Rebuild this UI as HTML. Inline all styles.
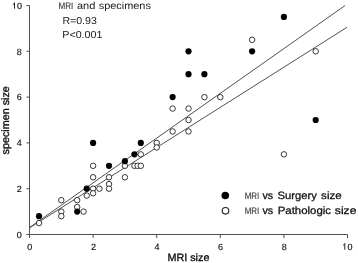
<!DOCTYPE html>
<html><head><meta charset="utf-8"><style>
html,body{margin:0;padding:0;background:#fff;width:358px;height:263px;overflow:hidden}
svg{display:block;filter:blur(0.35px)}
text{font-family:"Liberation Sans",sans-serif;fill:#111;text-rendering:geometricPrecision}
.tl{font-size:9.0px;fill:#111;stroke:#111;stroke-width:0.15px}
.at{font-size:10.6px;stroke:#111;stroke-width:0.35px}
.an{font-size:10.1px;fill:#1a1a1a}
.lg{font-size:10.6px;stroke:#111;stroke-width:0.28px}
.mri{font-size:9.4px;fill:#333;stroke:#333;stroke-width:0.1px}
</style></head><body>
<svg width="358" height="263" viewBox="0 0 358 263">
<line x1="29.6" y1="227.5" x2="345" y2="5.6" stroke="#505050" stroke-width="1"/>
<line x1="29.6" y1="227.8" x2="347" y2="27.3" stroke="#505050" stroke-width="1"/>
<path d="M29.5 5.5 V234.5 H347.5" fill="none" stroke="#505050" stroke-width="1"/>
<line x1="26.4" y1="234.50" x2="29.5" y2="234.50" stroke="#505050" stroke-width="1"/>
<text x="21.8" y="237.70" text-anchor="end" class="tl">0</text>
<line x1="26.4" y1="188.70" x2="29.5" y2="188.70" stroke="#505050" stroke-width="1"/>
<text x="21.8" y="191.90" text-anchor="end" class="tl">2</text>
<line x1="26.4" y1="142.90" x2="29.5" y2="142.90" stroke="#505050" stroke-width="1"/>
<text x="21.8" y="146.10" text-anchor="end" class="tl">4</text>
<line x1="26.4" y1="97.10" x2="29.5" y2="97.10" stroke="#505050" stroke-width="1"/>
<text x="21.8" y="100.30" text-anchor="end" class="tl">6</text>
<line x1="26.4" y1="51.30" x2="29.5" y2="51.30" stroke="#505050" stroke-width="1"/>
<text x="21.8" y="54.50" text-anchor="end" class="tl">8</text>
<line x1="26.4" y1="5.50" x2="29.5" y2="5.50" stroke="#505050" stroke-width="1"/>
<path d="M14.50 2.70 V8.70 M14.80 3.00 L12.80 4.60" stroke="#1a1a1a" stroke-width="0.95" fill="none"/>
<text x="17.0" y="8.80" class="tl">0</text>
<line x1="29.50" y1="234.5" x2="29.50" y2="238" stroke="#505050" stroke-width="1"/>
<text x="29.80" y="250" text-anchor="middle" class="tl">0</text>
<line x1="93.10" y1="234.5" x2="93.10" y2="238" stroke="#505050" stroke-width="1"/>
<text x="93.40" y="250" text-anchor="middle" class="tl">2</text>
<line x1="156.70" y1="234.5" x2="156.70" y2="238" stroke="#505050" stroke-width="1"/>
<text x="157.00" y="250" text-anchor="middle" class="tl">4</text>
<line x1="220.30" y1="234.5" x2="220.30" y2="238" stroke="#505050" stroke-width="1"/>
<text x="220.60" y="250" text-anchor="middle" class="tl">6</text>
<line x1="283.90" y1="234.5" x2="283.90" y2="238" stroke="#505050" stroke-width="1"/>
<text x="284.20" y="250" text-anchor="middle" class="tl">8</text>
<line x1="347.50" y1="234.5" x2="347.50" y2="238" stroke="#505050" stroke-width="1"/>
<path d="M344.80 243.40 V249.80 M345.10 243.70 L343.10 245.30" stroke="#1a1a1a" stroke-width="0.95" fill="none"/>
<text x="347.5" y="250" class="tl">0</text>
<circle cx="39.04" cy="223.05" r="2.75" fill="#fff" stroke="#222" stroke-width="0.9"/>
<circle cx="61.30" cy="200.15" r="2.75" fill="#fff" stroke="#222" stroke-width="0.9"/>
<circle cx="61.30" cy="211.60" r="2.75" fill="#fff" stroke="#222" stroke-width="0.9"/>
<circle cx="61.30" cy="216.18" r="2.75" fill="#fff" stroke="#222" stroke-width="0.9"/>
<circle cx="77.20" cy="200.15" r="2.75" fill="#fff" stroke="#222" stroke-width="0.9"/>
<circle cx="77.20" cy="207.02" r="2.75" fill="#fff" stroke="#222" stroke-width="0.9"/>
<circle cx="83.56" cy="211.60" r="2.75" fill="#fff" stroke="#222" stroke-width="0.9"/>
<circle cx="86.74" cy="195.57" r="2.75" fill="#fff" stroke="#222" stroke-width="0.9"/>
<circle cx="93.10" cy="177.25" r="2.75" fill="#fff" stroke="#222" stroke-width="0.9"/>
<circle cx="93.10" cy="188.70" r="2.75" fill="#fff" stroke="#222" stroke-width="0.9"/>
<circle cx="93.10" cy="193.28" r="2.75" fill="#fff" stroke="#222" stroke-width="0.9"/>
<circle cx="93.10" cy="165.80" r="2.75" fill="#fff" stroke="#222" stroke-width="0.9"/>
<circle cx="99.46" cy="188.70" r="2.75" fill="#fff" stroke="#222" stroke-width="0.9"/>
<circle cx="109.00" cy="177.25" r="2.75" fill="#fff" stroke="#222" stroke-width="0.9"/>
<circle cx="109.00" cy="184.12" r="2.75" fill="#fff" stroke="#222" stroke-width="0.9"/>
<circle cx="109.00" cy="188.70" r="2.75" fill="#fff" stroke="#222" stroke-width="0.9"/>
<circle cx="124.90" cy="165.80" r="2.75" fill="#fff" stroke="#222" stroke-width="0.9"/>
<circle cx="124.90" cy="177.25" r="2.75" fill="#fff" stroke="#222" stroke-width="0.9"/>
<circle cx="134.44" cy="165.80" r="2.75" fill="#fff" stroke="#222" stroke-width="0.9"/>
<circle cx="137.62" cy="165.80" r="2.75" fill="#fff" stroke="#222" stroke-width="0.9"/>
<circle cx="140.80" cy="165.80" r="2.75" fill="#fff" stroke="#222" stroke-width="0.9"/>
<circle cx="140.80" cy="154.35" r="2.75" fill="#fff" stroke="#222" stroke-width="0.9"/>
<circle cx="156.70" cy="142.90" r="2.75" fill="#fff" stroke="#222" stroke-width="0.9"/>
<circle cx="156.70" cy="147.48" r="2.75" fill="#fff" stroke="#222" stroke-width="0.9"/>
<circle cx="172.60" cy="108.55" r="2.75" fill="#fff" stroke="#222" stroke-width="0.9"/>
<circle cx="172.60" cy="131.45" r="2.75" fill="#fff" stroke="#222" stroke-width="0.9"/>
<circle cx="188.50" cy="108.55" r="2.75" fill="#fff" stroke="#222" stroke-width="0.9"/>
<circle cx="188.50" cy="120.00" r="2.75" fill="#fff" stroke="#222" stroke-width="0.9"/>
<circle cx="188.50" cy="131.45" r="2.75" fill="#fff" stroke="#222" stroke-width="0.9"/>
<circle cx="204.40" cy="97.10" r="2.75" fill="#fff" stroke="#222" stroke-width="0.9"/>
<circle cx="220.30" cy="97.10" r="2.75" fill="#fff" stroke="#222" stroke-width="0.9"/>
<circle cx="252.10" cy="39.85" r="2.75" fill="#fff" stroke="#222" stroke-width="0.9"/>
<circle cx="283.90" cy="154.35" r="2.75" fill="#fff" stroke="#222" stroke-width="0.9"/>
<circle cx="315.70" cy="51.30" r="2.75" fill="#fff" stroke="#222" stroke-width="0.9"/>
<circle cx="39.04" cy="216.18" r="3.1" fill="#000"/>
<circle cx="77.20" cy="211.60" r="3.1" fill="#000"/>
<circle cx="86.74" cy="188.70" r="3.1" fill="#000"/>
<circle cx="93.10" cy="142.90" r="3.1" fill="#000"/>
<circle cx="109.00" cy="165.80" r="3.1" fill="#000"/>
<circle cx="124.90" cy="161.22" r="3.1" fill="#000"/>
<circle cx="134.44" cy="154.35" r="3.1" fill="#000"/>
<circle cx="140.80" cy="142.90" r="3.1" fill="#000"/>
<circle cx="172.60" cy="97.10" r="3.1" fill="#000"/>
<circle cx="188.50" cy="51.30" r="3.1" fill="#000"/>
<circle cx="188.50" cy="74.20" r="3.1" fill="#000"/>
<circle cx="204.40" cy="74.20" r="3.1" fill="#000"/>
<circle cx="252.10" cy="51.30" r="3.1" fill="#000"/>
<circle cx="283.90" cy="16.95" r="3.1" fill="#000"/>
<circle cx="315.70" cy="120.00" r="3.1" fill="#000"/>
<text x="167.40" y="261.4" class="at" textLength="42.00" lengthAdjust="spacingAndGlyphs">MRI size</text>
<text transform="translate(9.1,154.5) rotate(-90)" class="at" textLength="68.3" lengthAdjust="spacingAndGlyphs">specimen size</text>
<text x="58.50" y="8.9" class="mri" textLength="14.80" lengthAdjust="spacingAndGlyphs">MRI</text>
<text x="76.90" y="9.3" class="an" textLength="18.40" lengthAdjust="spacingAndGlyphs">and</text>
<text x="98.70" y="9.3" class="an" textLength="52.20" lengthAdjust="spacingAndGlyphs">specimens</text>
<text x="62.40" y="23.9" class="an" textLength="34.40" lengthAdjust="spacingAndGlyphs">R=0.93</text>
<text x="62.30" y="38.4" class="an" textLength="40.10" lengthAdjust="spacingAndGlyphs">P&lt;0.001</text>
<circle cx="225.3" cy="195.5" r="3.8" fill="#000"/>
<circle cx="225.5" cy="210.8" r="3.3" fill="#fff" stroke="#222" stroke-width="1.1"/>
<text x="244.70" y="199.2" class="mri" textLength="14.60" lengthAdjust="spacingAndGlyphs">MRI</text>
<text x="262.40" y="199.2" class="lg" textLength="10.70" lengthAdjust="spacingAndGlyphs">vs</text>
<text x="244.70" y="213.6" class="mri" textLength="14.60" lengthAdjust="spacingAndGlyphs">MRI</text>
<text x="262.40" y="213.6" class="lg" textLength="10.70" lengthAdjust="spacingAndGlyphs">vs</text>
<text x="277.40" y="199.2" class="lg" textLength="39.40" lengthAdjust="spacingAndGlyphs">Surgery</text>
<text x="321.10" y="199.2" class="lg" textLength="20.60" lengthAdjust="spacingAndGlyphs">size</text>
<text x="277.70" y="213.6" class="lg" textLength="53.40" lengthAdjust="spacingAndGlyphs">Pathologic</text>
<text x="334.80" y="213.6" class="lg" textLength="21.70" lengthAdjust="spacingAndGlyphs">size</text>
</svg>
</body></html>
